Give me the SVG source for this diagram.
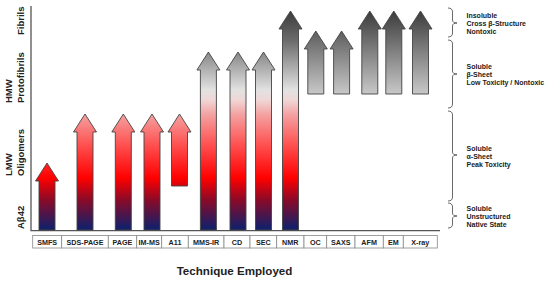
<svg xmlns="http://www.w3.org/2000/svg" width="550" height="284" viewBox="0 0 550 284">
<defs>
<linearGradient id="gMain" gradientUnits="userSpaceOnUse" x1="0" y1="10" x2="0" y2="230">
<stop offset="0" stop-color="#3a3a3a"/>
<stop offset="0.136" stop-color="#6a6a6a"/>
<stop offset="0.364" stop-color="#e2e2e2"/>
<stop offset="0.41" stop-color="#f0d6d6"/>
<stop offset="0.477" stop-color="#f4a0a0"/>
<stop offset="0.614" stop-color="#ff5050"/>
<stop offset="0.764" stop-color="#ff0000"/>
<stop offset="0.864" stop-color="#8a0a28"/>
<stop offset="0.99" stop-color="#14206a"/>
</linearGradient>
<linearGradient id="gGray" gradientUnits="userSpaceOnUse" x1="0" y1="10" x2="0" y2="94">
<stop offset="0" stop-color="#3a3a3a"/>
<stop offset="1" stop-color="#c8c8c8"/>
</linearGradient>
</defs>
<style>
text{font-family:"Liberation Sans",Arial,sans-serif;font-weight:bold;fill:#222}
.arrow{fill:url(#gMain);stroke:#444;stroke-width:0.9}
.garrow{fill:url(#gGray);stroke:#444;stroke-width:0.9}
.box{fill:#fff;stroke:#888;stroke-width:0.8}
.lbl{font-size:7.2px;text-anchor:middle}
.ax{font-size:9.5px}
.brace{fill:none;stroke:#444;stroke-width:0.8}
.desc{font-size:7px}
.axis{stroke:#555;stroke-width:1.3;fill:none}
</style>
<rect width="550" height="284" fill="#fff"/>
<g id="axis-labels">
<text class="ax" transform="translate(24,35) rotate(-90)">Fibrils</text>
<text class="ax" transform="translate(12,103) rotate(-90)">HMW</text>
<text class="ax" transform="translate(24,103) rotate(-90)">Protofibrils</text>
<text class="ax" transform="translate(12,176) rotate(-90)">LMW</text>
<text class="ax" transform="translate(24,176) rotate(-90)">Oligomers</text>
<text class="ax" transform="translate(24,229) rotate(-90)">Aβ42</text>
</g>
<g id="connectors">
<path class="axis" d="M31 6 L31 230.7 L440 230.7"/>
<path class="brace" d="M448 8 Q452.5 8 452.5 12 L452.5 20 Q452.5 23 457 23 Q452.5 23 452.5 26 L452.5 33 Q452.5 37 448 37"/>
<path class="brace" d="M448 40 Q452.5 40 452.5 44 L452.5 71 Q452.5 74 457 74 Q452.5 74 452.5 77 L452.5 104 Q452.5 108 448 108"/>
<path class="brace" d="M448 111 Q452.5 111 452.5 115 L452.5 152 Q452.5 155 457 155 Q452.5 155 452.5 158 L452.5 197 Q452.5 201 448 201"/>
<path class="brace" d="M448 203 Q452.5 203 452.5 207 L452.5 213 Q452.5 216 457 216 Q452.5 216 452.5 219 L452.5 224 Q452.5 228 448 228"/>
</g>
<g id="arrow-SMFS"><path class="arrow" d="M39 230 L39 181 L35.5 181 L47 163 L58.5 181 L55 181 L55 230 Z"/></g>
<g id="arrow-SDS-PAGE"><path class="arrow" d="M77 230 L77 132 L73.5 132 L85 114 L96.5 132 L93 132 L93 230 Z"/></g>
<g id="arrow-PAGE"><path class="arrow" d="M115.3 230 L115.3 132 L111.8 132 L123.3 114 L134.8 132 L131.3 132 L131.3 230 Z"/></g>
<g id="arrow-IM-MS"><path class="arrow" d="M144 230 L144 132 L140.5 132 L152 114 L163.5 132 L160 132 L160 230 Z"/></g>
<g id="arrow-A11"><path class="arrow" d="M171.5 186 L171.5 132 L168 132 L179.5 114 L191 132 L187.5 132 L187.5 186 Z"/></g>
<g id="arrow-MMS-IR"><path class="arrow" d="M200.4 230 L200.4 70 L196.9 70 L208.4 52 L219.9 70 L216.4 70 L216.4 230 Z"/></g>
<g id="arrow-CD"><path class="arrow" d="M230 230 L230 70 L226.5 70 L238 52 L249.5 70 L246 70 L246 230 Z"/></g>
<g id="arrow-SEC"><path class="arrow" d="M255.5 230 L255.5 70 L252 70 L263.5 52 L275 70 L271.5 70 L271.5 230 Z"/></g>
<g id="arrow-NMR"><path class="arrow" d="M282.5 230 L282.5 29 L279 29 L290.5 11 L302 29 L298.5 29 L298.5 230 Z"/></g>
<g id="arrow-OC"><path class="garrow" d="M307.8 94 L307.8 49 L304.3 49 L315.8 31 L327.3 49 L323.8 49 L323.8 94 Z"/></g>
<g id="arrow-SAXS"><path class="garrow" d="M333.6 94 L333.6 49 L330.1 49 L341.6 31 L353.1 49 L349.6 49 L349.6 94 Z"/></g>
<g id="arrow-AFM"><path class="garrow" d="M361.8 94 L361.8 29 L358.3 29 L369.8 11 L381.3 29 L377.8 29 L377.8 94 Z"/></g>
<g id="arrow-EM"><path class="garrow" d="M385.8 94 L385.8 29 L382.3 29 L393.8 11 L405.3 29 L401.8 29 L401.8 94 Z"/></g>
<g id="arrow-X-ray"><path class="garrow" d="M412.5 94 L412.5 29 L409 29 L420.5 11 L432 29 L428.5 29 L428.5 94 Z"/></g>
<g id="labels">
<rect class="box" x="32.7" y="235.5" width="29" height="12.5"/><text class="lbl" x="47.2" y="244.5">SMFS</text>
<rect class="box" x="61.7" y="235.5" width="46.6" height="12.5"/><text class="lbl" x="85" y="244.5">SDS-PAGE</text>
<rect class="box" x="108.3" y="235.5" width="28.4" height="12.5"/><text class="lbl" x="122.5" y="244.5">PAGE</text>
<rect class="box" x="136.7" y="235.5" width="25" height="12.5"/><text class="lbl" x="149.2" y="244.5">IM-MS</text>
<rect class="box" x="161.7" y="235.5" width="26.6" height="12.5"/><text class="lbl" x="175" y="244.5">A11</text>
<rect class="box" x="188.3" y="235.5" width="35.7" height="12.5"/><text class="lbl" x="206.1" y="244.5">MMS-IR</text>
<rect class="box" x="224" y="235.5" width="26" height="12.5"/><text class="lbl" x="237" y="244.5">CD</text>
<rect class="box" x="250" y="235.5" width="26.7" height="12.5"/><text class="lbl" x="263.3" y="244.5">SEC</text>
<rect class="box" x="276.7" y="235.5" width="27.3" height="12.5"/><text class="lbl" x="290.3" y="244.5">NMR</text>
<rect class="box" x="304" y="235.5" width="22.7" height="12.5"/><text class="lbl" x="315.3" y="244.5">OC</text>
<rect class="box" x="326.7" y="235.5" width="28.3" height="12.5"/><text class="lbl" x="340.8" y="244.5">SAXS</text>
<rect class="box" x="355" y="235.5" width="28.3" height="12.5"/><text class="lbl" x="369.1" y="244.5">AFM</text>
<rect class="box" x="383.3" y="235.5" width="20" height="12.5"/><text class="lbl" x="393.3" y="244.5">EM</text>
<rect class="box" x="403.3" y="235.5" width="34" height="12.5"/><text class="lbl" x="420.3" y="244.5">X-ray</text>
</g>
<g id="desc-fibrils">
<text class="desc" x="466.5" y="18">Insoluble</text>
<text class="desc" x="466.5" y="26">Cross β-Structure</text>
<text class="desc" x="466.5" y="34">Nontoxic</text>
</g>
<g id="desc-protofibrils">
<text class="desc" x="466.5" y="68.5">Soluble</text>
<text class="desc" x="466.5" y="76.5">β-Sheet</text>
<text class="desc" x="466.5" y="84.5">Low Toxicity / Nontoxic</text>
</g>
<g id="desc-oligomers">
<text class="desc" x="466.5" y="150.5">Soluble</text>
<text class="desc" x="466.5" y="158.5">α-Sheet</text>
<text class="desc" x="466.5" y="166.5">Peak Toxicity</text>
</g>
<g id="desc-monomer">
<text class="desc" x="466.5" y="210.5">Soluble</text>
<text class="desc" x="466.5" y="218.5">Unstructured</text>
<text class="desc" x="466.5" y="226.5">Native State</text>
</g>
<g id="title">
<text x="234.5" y="275" font-size="11.6" text-anchor="middle">Technique Employed</text>
</g>
</svg>
